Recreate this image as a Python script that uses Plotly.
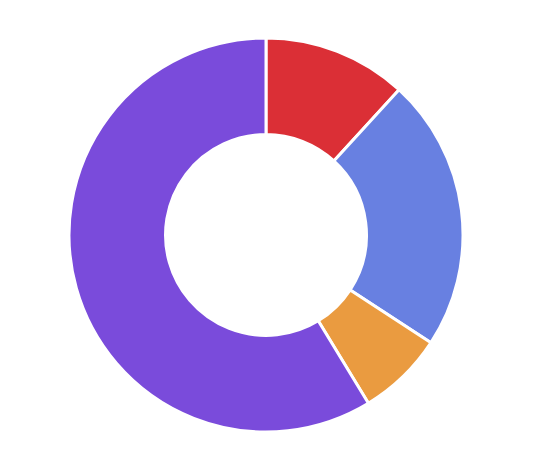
import plotly.graph_objects as go

labels = ["A", "B", "C", "D"]
values = [11.8, 22.4, 7.1, 58.7]
colors = ["#DB2F36", "#6880E1", "#EA9B40", "#7A4BDB"]

fig = go.Figure(go.Pie(
    labels=labels,
    values=values,
    hole=0.51,
    sort=False,
    direction="clockwise",
    rotation=0,
    marker=dict(colors=colors, line=dict(color="white", width=3)),
    textinfo="none",
    hoverinfo="label+value+percent",
))
fig.update_layout(
    width=538, height=474,
    showlegend=False,
    margin=dict(l=61, r=83, t=30, b=50),
    paper_bgcolor="white",
    plot_bgcolor="white",
)
fig.write_html("out.html")
